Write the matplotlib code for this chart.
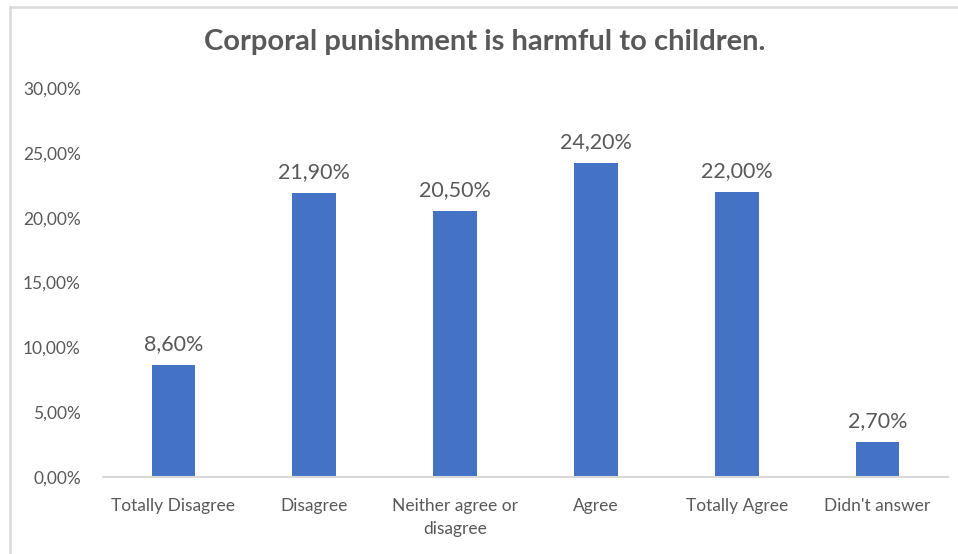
import matplotlib.pyplot as plt
from matplotlib.lines import Line2D

plt.rcParams['font.family'] = ['Lato', 'DejaVu Sans']

categories = ['Totally Disagree', 'Disagree', 'Neither agree or\ndisagree',
              'Agree', 'Totally Agree', "Didn't answer"]
values = [8.6, 21.9, 20.5, 24.2, 22.0, 2.7]
y_ticks = [0, 5, 10, 15, 20, 25, 30]

W, H = 958, 554
text_color = '#595959'

fig = plt.figure(figsize=(W / 100, H / 100), dpi=100)
ax = fig.add_axes([103 / W, (H - 477) / H, (948 - 103) / W, (477 - 88) / H])

x = range(len(categories))
bars = ax.bar(x, values, width=0.31, color='#4472C4', zorder=2)

for xi, v in zip(x, values):
    ax.annotate(f'{v:.2f}%'.replace('.', ','), (xi, v), xytext=(0, 8),
                textcoords='offset points', ha='center', va='bottom',
                fontsize=15.5, color=text_color)

ax.set_xlim(-0.5, len(categories) - 0.5)
ax.set_ylim(0, 30)
ax.set_yticks(y_ticks)
ax.set_yticklabels([f'{t:.2f}%'.replace('.', ',') for t in y_ticks])
ax.set_xticks(list(x))
ax.set_xticklabels(categories, linespacing=1.55)
ax.tick_params(axis='y', length=0, pad=16, labelsize=12.5, labelcolor=text_color)
ax.tick_params(axis='x', length=0, pad=15, labelsize=12.5, labelcolor=text_color)

for side in ['top', 'right', 'left']:
    ax.spines[side].set_visible(False)
ax.spines['bottom'].set_color('#d9d9d9')
ax.spines['bottom'].set_linewidth(1.5)

fig.text(485 / W, 1 - 42 / H, 'Corporal punishment is harmful to children.',
         ha='center', va='center', fontsize=21, fontweight='bold', color=text_color)

# chart frame (top and left edges)
fig.add_artist(Line2D([10 / W, 1], [1 - 6.5 / H, 1 - 6.5 / H], color='#d9d9d9', lw=1.8))
fig.add_artist(Line2D([10 / W, 10 / W], [0, 1 - 6.5 / H], color='#d9d9d9', lw=1.8))

fig.savefig('out.png', dpi=100)
